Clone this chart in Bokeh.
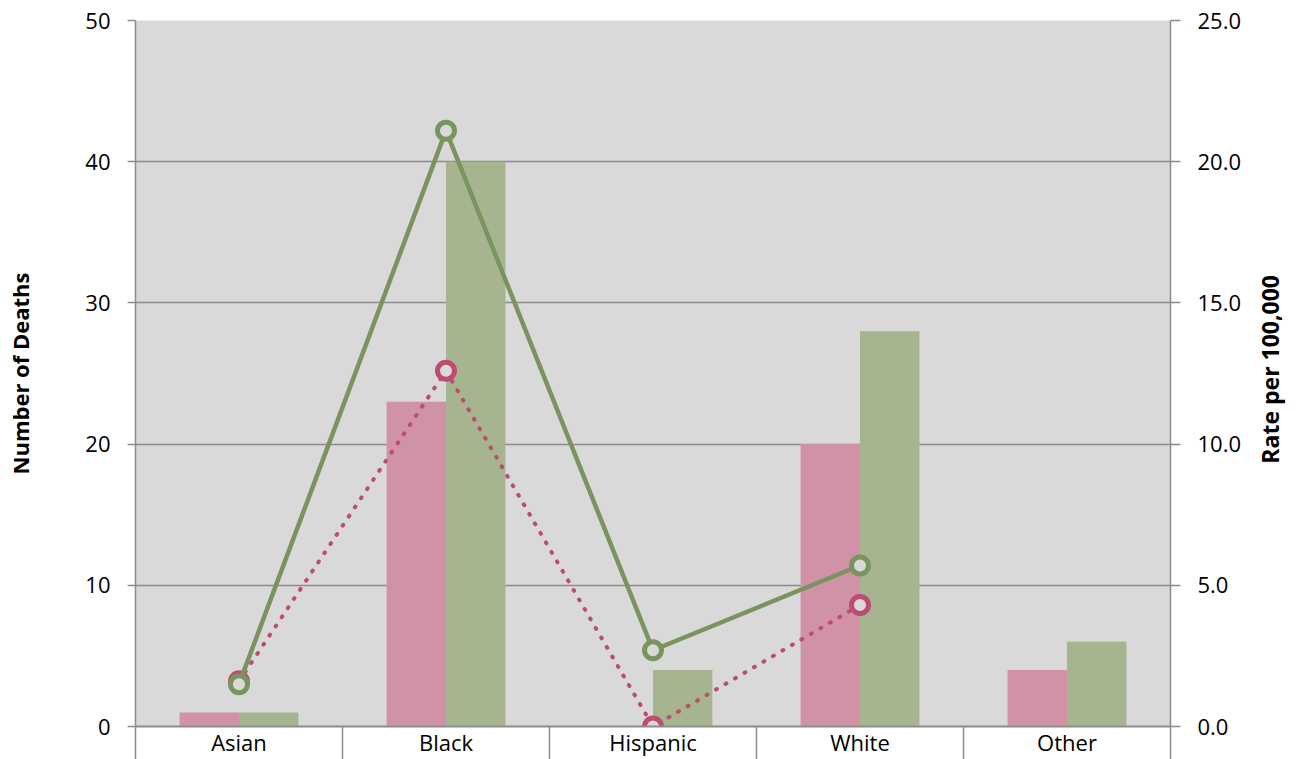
import math
from bokeh.plotting import figure
from bokeh.layouts import row
from bokeh.models import Range1d, LinearAxis, FixedTicker, NumeralTickFormatter
from bokeh.core.properties import value
from bokeh.embed import file_html
from bokeh.resources import INLINE

nan = float("nan")

# ---- data ----
categories = ["Asian", "Black", "Hispanic", "White", "Other"]
deaths_pink = [1, 23, 0, 20, 4]
deaths_green = [1, 40, 4, 28, 6]
rate_green = [1.5, 21.1, 2.7, 5.7, nan]
rate_pink = [1.6, 12.6, 0.0, 4.3, nan]
left_ticks = [0, 10, 20, 30, 40, 50]
right_ticks = [0, 5, 10, 15, 20, 25]
left_title = "Number of Deaths"
right_title = "Rate per 100,000"

# ---- styles ----
BG = "#D9D9D9"
GRID = "#8C8C8C"
PINK_BAR = "#D092A7"
GREEN_BAR = "#A6B590"
PINK_LINE = "#BE4B72"
GREEN_LINE = "#7A9460"
FONT = "Open Sans"

centers = [i + 0.5 for i in range(len(categories))]
bw = 0.287
x_pink = [c - bw / 2 for c in centers]
x_green = [c + bw / 2 for c in centers]

p = figure(width=1250, height=759, output_backend="svg", toolbar_location=None,
           x_range=Range1d(0, len(categories)), y_range=Range1d(0, 50),
           min_border_left=135, min_border_right=80, min_border_top=20,
           min_border_bottom=33)
p.extra_y_ranges = {"rate": Range1d(0, 25)}
p.background_fill_color = BG
p.border_fill_color = "white"
p.outline_line_color = None

# bars
p.vbar(x=x_pink, top=deaths_pink, width=bw, fill_color=PINK_BAR, line_color=None)
p.vbar(x=x_green, top=deaths_green, width=bw, fill_color=GREEN_BAR, line_color=None)

# pink dotted line
p.line(centers, rate_pink, y_range_name="rate", line_color=PINK_LINE, line_width=4,
       line_dash="1 10", line_cap="round")
p.scatter(centers, rate_pink, y_range_name="rate", size=17, marker="circle",
          fill_color=BG, line_color=PINK_LINE, line_width=5)
# green solid line
p.line(centers, rate_green, y_range_name="rate", line_color=GREEN_LINE, line_width=4.5)
p.scatter(centers, rate_green, y_range_name="rate", size=17, marker="circle",
          fill_color=BG, line_color=GREEN_LINE, line_width=5)

# grid
p.xgrid.visible = False
p.ygrid.ticker = FixedTicker(ticks=left_ticks)
p.ygrid.grid_line_color = GRID
p.ygrid.grid_line_width = 1.5

# left axis
ya = p.yaxis[0]
ya.ticker = FixedTicker(ticks=left_ticks)
ya.axis_line_color = GRID
ya.axis_line_width = 1.5
ya.major_tick_line_color = GRID
ya.major_tick_line_width = 1.5
ya.major_tick_out = 8
ya.major_tick_in = 0
ya.minor_tick_line_color = None
ya.major_label_text_font = FONT
ya.major_label_text_font_size = "22px"
ya.major_label_text_color = "black"
ya.major_label_standoff = 17
ya.axis_label = left_title
ya.axis_label_text_font = FONT
ya.axis_label_text_font_style = "bold"
ya.axis_label_text_font_size = "22px"
ya.axis_label_text_color = "black"
ya.axis_label_standoff = 47

# right axis
ra = LinearAxis(y_range_name="rate", ticker=FixedTicker(ticks=right_ticks),
                formatter=NumeralTickFormatter(format="0.0"))
ra.axis_line_color = GRID
ra.axis_line_width = 1.5
ra.major_tick_line_color = GRID
ra.major_tick_line_width = 1.5
ra.major_tick_out = 10
ra.major_tick_in = 0
ra.minor_tick_line_color = None
ra.major_label_text_font = FONT
ra.major_label_text_font_size = "22px"
ra.major_label_text_color = "black"
ra.major_label_standoff = 17
p.add_layout(ra, "right")

# bottom axis
xa = p.xaxis[0]
xa.ticker = FixedTicker(ticks=centers, minor_ticks=list(range(len(categories) + 1)))
xa.major_label_overrides = {c: name for c, name in zip(centers, categories)}
xa.axis_line_color = GRID
xa.axis_line_width = 2
xa.major_tick_out = 0
xa.major_tick_in = 0
xa.major_tick_line_color = None
xa.minor_tick_out = 33
xa.minor_tick_in = 0
xa.minor_tick_line_color = GRID
xa.minor_tick_line_width = 1.5
xa.major_label_text_font = FONT
xa.major_label_text_font_size = "22px"
xa.major_label_text_color = "black"
xa.major_label_standoff = -33

# narrow strip holding the right-hand axis title (reads bottom-to-top)
p2 = figure(width=40, height=759, output_backend="svg", toolbar_location=None,
            x_range=Range1d(0, 40), y_range=Range1d(0, 759),
            x_axis_location=None, y_axis_location=None, min_border=0)
p2.grid.visible = False
p2.outline_line_color = None
p2.background_fill_color = "white"
p2.border_fill_color = "white"
p2.text(x=[19.5], y=[384], text=[right_title], angle=math.pi / 2,
        text_align="center", text_baseline="middle",
        text_font=value(FONT), text_font_style="bold",
        text_font_size="23px", text_color="black")

layout = row(p, p2)
open("out.html", "w").write(file_html(layout, INLINE))
